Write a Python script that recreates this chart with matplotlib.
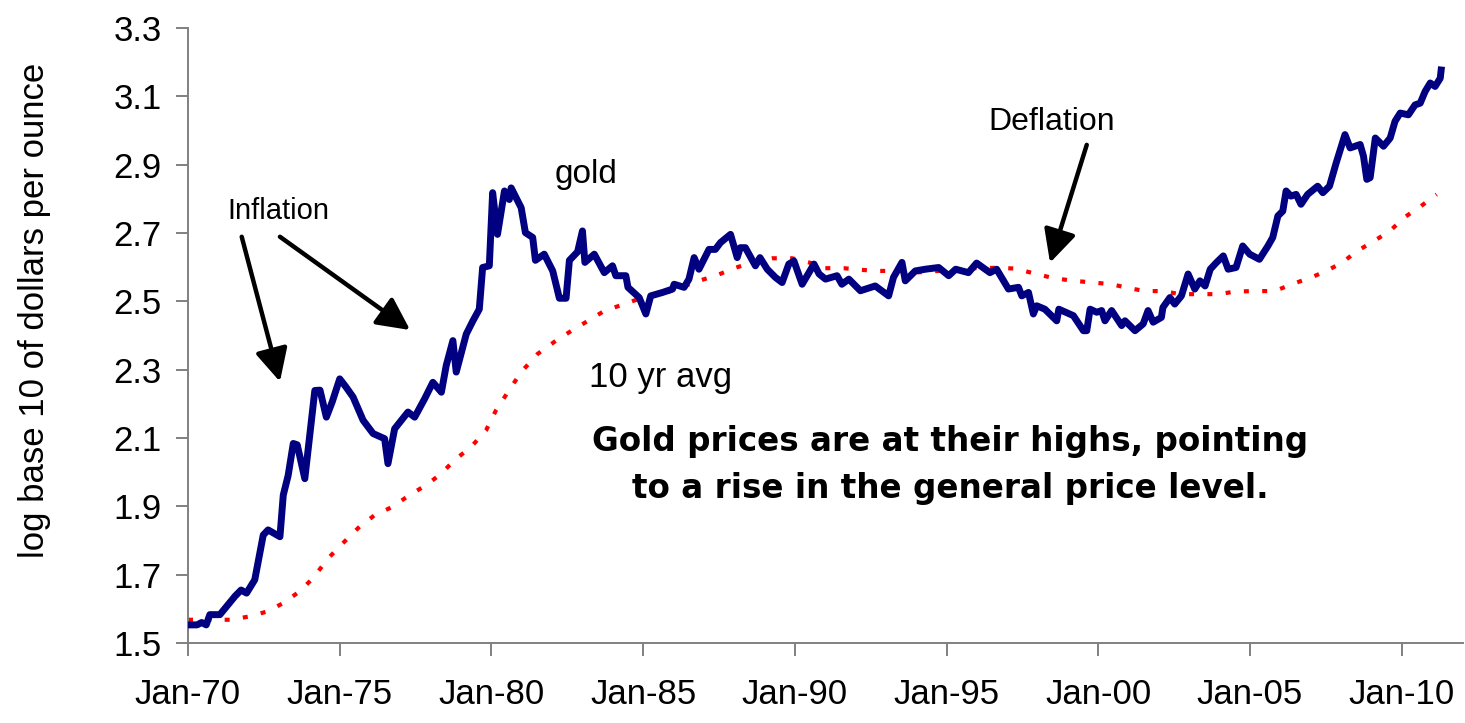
import numpy as np
import matplotlib
matplotlib.use('Agg')
import matplotlib.pyplot as plt

# gold price, log10 of $/oz (decimal year, value)
gold_years = [1970.0, 1970.3, 1970.45, 1970.6, 1970.72, 1971.05, 1971.55, 1971.75, 1971.93, 1972.2,
              1972.48, 1972.64, 1973.03, 1973.14, 1973.3, 1973.47, 1973.6, 1973.85, 1974.18, 1974.35,
              1974.56, 1974.75, 1975.0, 1975.2, 1975.44, 1975.77, 1976.1, 1976.48, 1976.59, 1976.81,
              1977.25, 1977.47, 1977.8, 1978.07, 1978.35, 1978.51, 1978.73, 1978.84, 1979.17, 1979.39,
              1979.6, 1979.71, 1979.93, 1980.04, 1980.2, 1980.43, 1980.59, 1980.65, 1980.98, 1981.12,
              1981.36, 1981.45, 1981.74, 1982.02, 1982.24, 1982.46, 1982.57, 1982.84, 1983.0, 1983.08,
              1983.39, 1983.72, 1983.99, 1984.1, 1984.43, 1984.5, 1984.87, 1985.09, 1985.25, 1985.64,
              1985.97, 1986.02, 1986.35, 1986.51, 1986.68, 1986.84, 1987.17, 1987.38, 1987.55, 1987.88,
              1988.1, 1988.2, 1988.37, 1988.7, 1988.85, 1989.09, 1989.36, 1989.58, 1989.8, 1989.97,
              1990.24, 1990.63, 1990.8, 1991.01, 1991.39, 1991.55, 1991.78, 1992.16, 1992.65, 1993.09,
              1993.25, 1993.53, 1993.64, 1993.97, 1994.3, 1994.74, 1995.07, 1995.3, 1995.72, 1995.99,
              1996.43, 1996.65, 1997.04, 1997.37, 1997.48, 1997.7, 1997.86, 1997.97, 1998.24, 1998.63,
              1998.7, 1999.18, 1999.4, 1999.51, 1999.62, 1999.73, 1999.95, 2000.11, 2000.22, 2000.44,
              2000.77, 2000.88, 2001.21, 2001.48, 2001.64, 2001.81, 2002.08, 2002.13, 2002.36, 2002.52,
              2002.74, 2002.96, 2003.18, 2003.35, 2003.52, 2003.69, 2003.9, 2004.12, 2004.28, 2004.54,
              2004.76, 2004.99, 2005.31, 2005.59, 2005.75, 2005.92, 2006.08, 2006.19, 2006.35, 2006.52,
              2006.68, 2006.9, 2007.23, 2007.4, 2007.62, 2007.84, 2008.13, 2008.3, 2008.63, 2008.74,
              2008.85, 2008.96, 2009.13, 2009.4, 2009.62, 2009.78, 2009.95, 2010.22, 2010.44, 2010.61,
              2010.77, 2010.94, 2011.1, 2011.27, 2011.3]
gold_log = [1.553, 1.553, 1.56, 1.553, 1.583, 1.583, 1.637, 1.655, 1.646, 1.685,
            1.816, 1.831, 1.811, 1.933, 1.99, 2.084, 2.08, 1.981, 2.239, 2.24,
            2.161, 2.205, 2.273, 2.25, 2.22, 2.152, 2.113, 2.098, 2.025, 2.127,
            2.176, 2.161, 2.215, 2.263, 2.234, 2.312, 2.385, 2.293, 2.404, 2.443,
            2.477, 2.599, 2.604, 2.818, 2.696, 2.823, 2.798, 2.832, 2.774, 2.701,
            2.687, 2.62, 2.638, 2.589, 2.509, 2.509, 2.62, 2.645, 2.706, 2.614,
            2.638, 2.584, 2.604, 2.575, 2.575, 2.541, 2.511, 2.463, 2.516, 2.526,
            2.536, 2.55, 2.541, 2.565, 2.628, 2.594, 2.652, 2.652, 2.672, 2.696,
            2.628, 2.657, 2.657, 2.604, 2.628, 2.594, 2.57, 2.555, 2.609, 2.618,
            2.55, 2.609, 2.58, 2.565, 2.575, 2.55, 2.565, 2.531, 2.545, 2.516,
            2.57, 2.614, 2.56, 2.589, 2.594, 2.599, 2.575, 2.594, 2.584, 2.612,
            2.584, 2.594, 2.536, 2.541, 2.516, 2.526, 2.463, 2.487, 2.477, 2.443,
            2.477, 2.458, 2.429, 2.414, 2.414, 2.477, 2.468, 2.473, 2.443, 2.473,
            2.429, 2.443, 2.414, 2.434, 2.473, 2.439, 2.453, 2.482, 2.511, 2.492,
            2.516, 2.58, 2.536, 2.56, 2.545, 2.594, 2.614, 2.633, 2.594, 2.599,
            2.662, 2.638, 2.623, 2.662, 2.687, 2.75, 2.764, 2.823, 2.808, 2.813,
            2.784, 2.813, 2.837, 2.818, 2.837, 2.905, 2.988, 2.949, 2.959, 2.925,
            2.857, 2.862, 2.978, 2.954, 2.978, 3.027, 3.051, 3.046, 3.075, 3.08,
            3.114, 3.139, 3.129, 3.153, 3.177]

# 10 year average
avg_years = [1970.0, 1971.4, 1972.04, 1972.64, 1973.14, 1973.68, 1974.12, 1974.62, 1975.16, 1975.66,
             1976.15, 1976.75, 1977.3, 1977.85, 1978.35, 1978.78, 1979.33, 1979.82, 1980.15, 1980.54,
             1980.98, 1981.52, 1982.13, 1982.73, 1983.28, 1983.72, 1984.38, 1984.98, 1985.64, 1986.24,
             1986.84, 1987.45, 1988.0, 1988.6, 1989.26, 1989.91, 1990.46, 1991.0, 1991.61, 1992.2,
             1992.76, 1993.42, 1994.08, 1994.74, 1995.34, 1995.94, 1996.6, 1997.26, 1997.91, 1998.52,
             1999.18, 1999.84, 2000.44, 2000.99, 2001.54, 2002.14, 2002.69, 2003.35, 2003.95, 2004.55,
             2005.26, 2005.81, 2006.41, 2007.02, 2007.57, 2008.06, 2008.53, 2009.15, 2009.61, 2010.11,
             2010.64, 2011.15]
avg_log = [1.568, 1.568, 1.578, 1.593, 1.617, 1.651, 1.69, 1.748, 1.797, 1.841,
           1.874, 1.899, 1.933, 1.962, 1.996, 2.035, 2.074, 2.122, 2.181, 2.234,
           2.293, 2.346, 2.385, 2.419, 2.448, 2.472, 2.492, 2.511, 2.521, 2.541,
           2.56, 2.577, 2.597, 2.614, 2.626, 2.626, 2.614, 2.597, 2.597, 2.592,
           2.589, 2.589, 2.585, 2.589, 2.589, 2.597, 2.598, 2.596, 2.581, 2.568,
           2.56, 2.555, 2.55, 2.539, 2.53, 2.53, 2.521, 2.521, 2.521, 2.529,
           2.53, 2.53, 2.551, 2.57, 2.591, 2.615, 2.647, 2.68, 2.706, 2.747,
           2.779, 2.813]

tick_years = [1970, 1975, 1980, 1985, 1990, 1995, 2000, 2005, 2010]
tick_labels = ['Jan-70', 'Jan-75', 'Jan-80', 'Jan-85', 'Jan-90', 'Jan-95', 'Jan-00', 'Jan-05', 'Jan-10']
y_ticks = [1.5, 1.7, 1.9, 2.1, 2.3, 2.5, 2.7, 2.9, 3.1, 3.3]

plt.rcParams['font.family'] = ['Liberation Sans', 'DejaVu Sans']

fig = plt.figure(figsize=(14.65, 7.23), dpi=100)
ax = fig.add_axes([188/1465, 80/723, 1275/1465, 615/723])

ax.plot(avg_years, avg_log, color='red', lw=3, linestyle=(0, (1.2, 3.2)), zorder=2)
ax.plot(gold_years, gold_log, color='#000080', lw=5, solid_joinstyle='round', zorder=3)

ax.set_xlim(1970, 2012.02)
ax.set_ylim(1.5, 3.3)
ax.set_xticks(tick_years)
ax.set_xticklabels(tick_labels)
ax.set_yticks(y_ticks)
ax.set_yticklabels(['%.1f' % v for v in y_ticks])

for s in ['top', 'right']:
    ax.spines[s].set_visible(False)
for s in ['left', 'bottom']:
    ax.spines[s].set_color('#808080')
    ax.spines[s].set_linewidth(1.4)
ax.tick_params(axis='both', colors='#808080', width=1.4, length=9, labelcolor='black', labelsize=25)
ax.tick_params(axis='y', pad=10)
ax.tick_params(axis='x', pad=16)

fig.text(35/1465, 1 - 310/723, 'log base 10 of dollars per ounce', rotation=90,
         ha='center', va='center', fontsize=25)

arrow = dict(arrowstyle='-|>,head_length=0.9,head_width=0.45', color='black', lw=3.2,
             shrinkA=0, shrinkB=0, mutation_scale=22)
ax.annotate('', xy=(1973.03, 2.265), xytext=(1971.77, 2.689), arrowprops=arrow)
ax.annotate('', xy=(1977.32, 2.416), xytext=(1973.03, 2.689), arrowprops=arrow)
ax.annotate('', xy=(1998.41, 2.613), xytext=(1999.62, 2.958), arrowprops=arrow)

ax.text(1972.97, 2.764, 'Inflation', ha='center', va='center', fontsize=21)
ax.text(1983.12, 2.870, 'gold', ha='center', va='center', fontsize=24)
ax.text(1985.56, 2.276, '10 yr avg', ha='center', va='center', fontsize=25)
ax.text(1998.48, 3.025, 'Deflation', ha='center', va='center', fontsize=23)
ax.text(1995.12, 2.021, 'Gold prices are at their highs, pointing\nto a rise in the general price level.',
        ha='center', va='center', fontsize=23.5, fontweight='bold', family='DejaVu Sans',
        linespacing=1.55)

fig.savefig('out.png', dpi=100)
